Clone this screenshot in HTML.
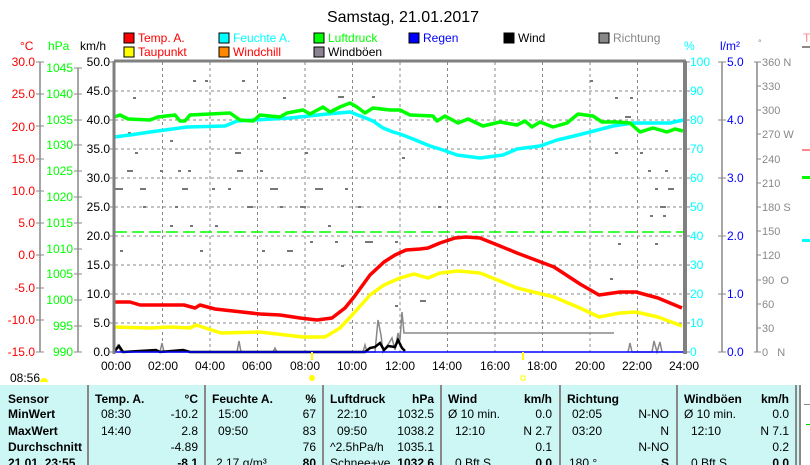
<!DOCTYPE html>
<html><head><meta charset="utf-8"><style>
body{margin:0;background:#fff;width:810px;height:465px;overflow:hidden;font-family:"Liberation Sans",sans-serif}
svg{display:block}
text{font-family:"Liberation Sans",sans-serif}
</style></head><body>
<svg width="810" height="465" xmlns="http://www.w3.org/2000/svg">
<text x="403" y="22" font-size="16" text-anchor="middle">Samstag, 21.01.2017</text>
<!-- legend -->
<g font-size="12">
<rect x="124" y="33" width="10" height="10" fill="#f00" stroke="#000"/><text x="138" y="42" fill="#f00">Temp. A.</text>
<rect x="124" y="47" width="10" height="10" fill="#ff0" stroke="#000"/><text x="138" y="56" fill="#f00">Taupunkt</text>
<rect x="219" y="33" width="10" height="10" fill="#0ff" stroke="#000"/><text x="233" y="42" fill="#0ff">Feuchte A.</text>
<rect x="219" y="47" width="10" height="10" fill="#f80" stroke="#000"/><text x="233" y="56" fill="#f00">Windchill</text>
<rect x="314" y="33" width="10" height="10" fill="#0f0" stroke="#000"/><text x="328" y="42" fill="#0f0">Luftdruck</text>
<rect x="314" y="47" width="10" height="10" fill="#8a8290" stroke="#000"/><text x="328" y="56">Windböen</text>
<rect x="409" y="33" width="10" height="10" fill="#00f" stroke="#000"/><text x="423" y="42" fill="#00f">Regen</text>
<rect x="504" y="33" width="10" height="10" fill="#000" stroke="#000"/><text x="518" y="42">Wind</text>
<rect x="599" y="33" width="10" height="10" fill="#888" stroke="#000"/><text x="613" y="42" fill="#888">Richtung</text>
</g>
<!-- axis titles -->
<g font-size="12">
<text x="20" y="50" fill="#f00">°C</text><text x="48" y="50" fill="#0f0">hPa</text><text x="80" y="50">km/h</text>
<text x="684" y="50" fill="#0ff">%</text><text x="720" y="50" fill="#00f">l/m²</text><text x="758" y="46" fill="#888" font-size="9">°</text>
<text x="803" y="42" fill="#f88">T</text>
</g>
<!-- left axes -->
<g stroke="#888" stroke-width="1.5" fill="none">
<line x1="40" y1="62" x2="40" y2="352"/><line x1="78" y1="68" x2="78" y2="352"/>
</g>
<g font-size="12" fill="#f00" text-anchor="end">
<text x="35" y="66">30.0</text><text x="35" y="98">25.0</text><text x="35" y="131">20.0</text><text x="35" y="163">15.0</text><text x="35" y="195">10.0</text><text x="35" y="227">5.0</text><text x="35" y="259">0.0</text><text x="35" y="292">-5.0</text><text x="35" y="324">-10.0</text><text x="35" y="356">-15.0</text>
</g>
<g stroke="#888"><line x1="36" y1="62" x2="44" y2="62"/><line x1="36" y1="94" x2="44" y2="94"/><line x1="36" y1="126" x2="44" y2="126"/><line x1="36" y1="159" x2="44" y2="159"/><line x1="36" y1="191" x2="44" y2="191"/><line x1="36" y1="223" x2="44" y2="223"/><line x1="36" y1="255" x2="44" y2="255"/><line x1="36" y1="288" x2="44" y2="288"/><line x1="36" y1="320" x2="44" y2="320"/><line x1="36" y1="352" x2="44" y2="352"/></g>
<g font-size="12" fill="#0f0" text-anchor="end">
<text x="73" y="72">1045</text><text x="73" y="98">1040</text><text x="73" y="124">1035</text><text x="73" y="149">1030</text><text x="73" y="175">1025</text><text x="73" y="201">1020</text><text x="73" y="227">1015</text><text x="73" y="253">1010</text><text x="73" y="278">1005</text><text x="73" y="304">1000</text><text x="73" y="330">995</text><text x="73" y="356">990</text>
</g>
<g stroke="#888"><line x1="74" y1="68" x2="82" y2="68"/><line x1="74" y1="94" x2="82" y2="94"/><line x1="74" y1="120" x2="82" y2="120"/><line x1="74" y1="145" x2="82" y2="145"/><line x1="74" y1="171" x2="82" y2="171"/><line x1="74" y1="197" x2="82" y2="197"/><line x1="74" y1="223" x2="82" y2="223"/><line x1="74" y1="249" x2="82" y2="249"/><line x1="74" y1="274" x2="82" y2="274"/><line x1="74" y1="300" x2="82" y2="300"/><line x1="74" y1="326" x2="82" y2="326"/><line x1="74" y1="352" x2="82" y2="352"/></g>
<g font-size="12" text-anchor="end">
<text x="110" y="66">50.0</text><text x="110" y="95">45.0</text><text x="110" y="124">40.0</text><text x="110" y="153">35.0</text><text x="110" y="182">30.0</text><text x="110" y="211">25.0</text><text x="110" y="240">20.0</text><text x="110" y="269">15.0</text><text x="110" y="298">10.0</text><text x="110" y="327">5.0</text><text x="110" y="356">0.0</text>
</g>
<!-- grid -->
<g stroke="#888" stroke-dasharray="3,3" stroke-width="1">
<line x1="115" y1="91" x2="683" y2="91"/><line x1="115" y1="120" x2="683" y2="120"/><line x1="115" y1="149" x2="683" y2="149"/><line x1="115" y1="178" x2="683" y2="178"/><line x1="115" y1="207" x2="683" y2="207"/><line x1="115" y1="236" x2="683" y2="236"/><line x1="115" y1="265" x2="683" y2="265"/><line x1="115" y1="294" x2="683" y2="294"/><line x1="115" y1="323" x2="683" y2="323"/>
<line x1="162.5" y1="62" x2="162.5" y2="352"/><line x1="210" y1="62" x2="210" y2="352"/><line x1="257.5" y1="62" x2="257.5" y2="352"/><line x1="305" y1="62" x2="305" y2="352"/><line x1="352.5" y1="62" x2="352.5" y2="352"/><line x1="400" y1="62" x2="400" y2="352"/><line x1="447.5" y1="62" x2="447.5" y2="352"/><line x1="495" y1="62" x2="495" y2="352"/><line x1="542.5" y1="62" x2="542.5" y2="352"/><line x1="590" y1="62" x2="590" y2="352"/><line x1="637.5" y1="62" x2="637.5" y2="352"/>
</g>
<!-- scattered direction dots -->
<g fill="#777">
<rect x="193" y="80" width="3" height="2"/><rect x="205" y="80" width="3" height="2"/><rect x="242" y="80" width="3" height="2"/><rect x="133" y="97" width="3" height="2"/><rect x="283" y="97" width="3" height="2"/><rect x="338" y="96" width="6" height="2"/><rect x="372" y="96" width="3" height="2"/><rect x="128" y="132" width="3" height="2"/><rect x="170" y="140" width="3" height="2"/><rect x="135" y="152" width="3" height="2"/><rect x="235" y="152" width="6" height="2"/><rect x="305" y="152" width="3" height="2"/><rect x="127" y="170" width="6" height="2"/><rect x="160" y="170" width="3" height="2"/><rect x="178" y="170" width="3" height="2"/><rect x="188" y="170" width="3" height="2"/><rect x="237" y="170" width="6" height="2"/><rect x="260" y="170" width="3" height="2"/><rect x="115" y="188" width="8" height="2"/><rect x="140" y="188" width="6" height="2"/><rect x="182" y="188" width="6" height="2"/><rect x="212" y="188" width="3" height="2"/><rect x="228" y="188" width="3" height="2"/><rect x="270" y="188" width="8" height="2"/><rect x="315" y="188" width="8" height="2"/><rect x="345" y="188" width="3" height="2"/><rect x="143" y="206" width="3" height="2"/><rect x="175" y="206" width="3" height="2"/><rect x="247" y="206" width="6" height="2"/><rect x="280" y="206" width="3" height="2"/><rect x="300" y="206" width="6" height="2"/><rect x="358" y="206" width="3" height="2"/><rect x="170" y="225" width="3" height="2"/><rect x="190" y="225" width="3" height="2"/><rect x="215" y="225" width="3" height="2"/><rect x="328" y="225" width="3" height="2"/><rect x="590" y="80" width="3" height="2"/><rect x="615" y="97" width="3" height="2"/><rect x="630" y="97" width="3" height="2"/><rect x="625" y="116" width="6" height="2"/><rect x="615" y="152" width="3" height="2"/><rect x="640" y="152" width="3" height="2"/><rect x="648" y="170" width="3" height="2"/><rect x="665" y="170" width="3" height="2"/><rect x="655" y="188" width="3" height="2"/><rect x="668" y="188" width="6" height="2"/><rect x="660" y="206" width="6" height="2"/><rect x="618" y="243" width="3" height="2"/><rect x="655" y="243" width="3" height="2"/><rect x="310" y="241" width="3" height="2"/><rect x="335" y="241" width="3" height="2"/><rect x="365" y="241" width="8" height="2"/><rect x="395" y="241" width="3" height="2"/><rect x="120" y="250" width="3" height="2"/><rect x="200" y="250" width="3" height="2"/><rect x="262" y="250" width="3" height="2"/><rect x="287" y="250" width="6" height="2"/><rect x="341" y="265" width="3" height="2"/><rect x="420" y="300" width="6" height="2"/><rect x="650" y="215" width="3" height="2"/><rect x="663" y="215" width="3" height="2"/><rect x="395" y="305" width="3" height="2"/><rect x="610" y="278" width="3" height="2"/><rect x="438" y="206" width="3" height="2"/><rect x="402" y="157" width="3" height="2"/></g>
<!-- pressure mean dashed -->
<line x1="115" y1="232" x2="683" y2="232" stroke="#0f0" stroke-width="1.5" stroke-dasharray="12,5"/>
<!-- series -->
<g fill="none" stroke-width="3.5" stroke-linejoin="round">
<polyline stroke="#0ff" points="114,137 130,135 150,132 165,130 187,127 225,126 237,121 290,118 327,114 350,112 363,117 373,121 383,128 393,132 400,134 413,139 430,146 443,150 457,155 480,158 503,155 517,149 540,146 557,140 570,137 590,132 613,126 633,123 670,123 683,120"/>
<polyline stroke="#0f0" points="114,117 120,115 128,119 150,120 158,117 175,115 180,121 185,121 190,115 210,114 230,113 240,120 253,121 260,115 280,117 287,113 303,110 310,114 323,107 330,112 340,107 350,103 357,107 365,113 373,108 390,110 400,110 410,115 433,116 437,121 445,116 458,123 468,119 483,126 500,122 517,125 525,121 532,127 540,122 553,127 567,123 578,114 593,116 602,122 617,122 630,123 640,132 653,128 667,132 675,129 683,131"/>
<polyline stroke="#ff0" points="114,327 150,328 170,327 190,328 196,325 221,333 260,332 303,337 325,337 340,328 354,313 370,295 384,285 400,278 414,274 428,278 440,273 458,271 480,273 500,281 517,288 554,297 580,308 599,317 620,313 636,312 658,317 682,326"/>
<polyline stroke="#f00" points="114,302 130,302 140,305 184,305 195,308 200,305 215,309 260,314 280,315 300,318 317,320 332,318 345,308 354,297 370,275 384,262 395,255 406,250 420,249 428,248 440,243 455,238 466,237 480,238 500,246 517,253 554,267 580,284 599,295 620,292 636,292 658,298 682,308"/>
</g>
<!-- gusts -->
<polyline fill="none" stroke="#888" stroke-width="1.5" points="114,352 118,345 121,352 160,352 162,343 164,352 237,352 239,341 241,352 273,352 275,348 277,352 363,352 365,345 367,352 375,352 378,320 381,335 383,352 389,343 392,338 395,350 398,333 400,340 402,312 404,333 614,333"/>
<polyline fill="none" stroke="#888" stroke-width="1.5" points="628,352 630,343 632,352 652,352 654,341 657,352 660,342 662,352"/>
<polyline fill="none" stroke="#000" stroke-width="2.5" points="114,352 119,346 123,352 156,350 160,352 183,350 190,352 365,352 370,348 375,347 380,343 384,350 388,346 395,347 398,340 402,348 405,351"/>
<line x1="115" y1="352" x2="683" y2="352" stroke="#00f" stroke-width="1.5"/>
<!-- frame -->
<g stroke="#808080" fill="none">
<line x1="114" y1="61" x2="686" y2="61" stroke-width="3"/>
<line x1="114" y1="61" x2="114" y2="354" stroke-width="3"/>
<line x1="685" y1="61" x2="685" y2="354" stroke-width="4"/>
</g>
<g stroke="#888"><line x1="110" y1="62" x2="114" y2="62"/><line x1="110" y1="91" x2="114" y2="91"/><line x1="110" y1="120" x2="114" y2="120"/><line x1="110" y1="149" x2="114" y2="149"/><line x1="110" y1="178" x2="114" y2="178"/><line x1="110" y1="207" x2="114" y2="207"/><line x1="110" y1="236" x2="114" y2="236"/><line x1="110" y1="265" x2="114" y2="265"/><line x1="110" y1="294" x2="114" y2="294"/><line x1="110" y1="323" x2="114" y2="323"/><line x1="110" y1="352" x2="114" y2="352"/></g>
<!-- right axes -->
<g font-size="12" fill="#0ff">
<text x="690" y="66">100</text><text x="690" y="95">90</text><text x="690" y="124">80</text><text x="690" y="153">70</text><text x="690" y="182">60</text><text x="690" y="211">50</text><text x="690" y="240">40</text><text x="690" y="269">30</text><text x="690" y="298">20</text><text x="690" y="327">10</text><text x="690" y="356">0</text>
</g>
<g stroke="#888"><line x1="686" y1="62" x2="690" y2="62"/><line x1="686" y1="91" x2="690" y2="91"/><line x1="686" y1="120" x2="690" y2="120"/><line x1="686" y1="149" x2="690" y2="149"/><line x1="686" y1="178" x2="690" y2="178"/><line x1="686" y1="207" x2="690" y2="207"/><line x1="686" y1="236" x2="690" y2="236"/><line x1="686" y1="265" x2="690" y2="265"/><line x1="686" y1="294" x2="690" y2="294"/><line x1="686" y1="323" x2="690" y2="323"/><line x1="686" y1="352" x2="690" y2="352"/>
<line x1="722" y1="62" x2="722" y2="352" stroke-width="1.5"/>
<line x1="718" y1="62" x2="726" y2="62"/><line x1="718" y1="120" x2="726" y2="120"/><line x1="718" y1="178" x2="726" y2="178"/><line x1="718" y1="236" x2="726" y2="236"/><line x1="718" y1="294" x2="726" y2="294"/><line x1="718" y1="352" x2="726" y2="352"/>
<line x1="757" y1="62" x2="757" y2="352" stroke-width="1.5"/>
<line x1="754" y1="62" x2="761" y2="62"/><line x1="757" y1="86" x2="761" y2="86"/><line x1="757" y1="110" x2="761" y2="110"/><line x1="757" y1="134" x2="761" y2="134"/><line x1="757" y1="159" x2="761" y2="159"/><line x1="757" y1="183" x2="761" y2="183"/><line x1="757" y1="207" x2="761" y2="207"/><line x1="757" y1="231" x2="761" y2="231"/><line x1="757" y1="255" x2="761" y2="255"/><line x1="757" y1="280" x2="761" y2="280"/><line x1="757" y1="304" x2="761" y2="304"/><line x1="757" y1="328" x2="761" y2="328"/><line x1="754" y1="352" x2="761" y2="352"/>
</g>
<g font-size="12" fill="#00f"><text x="727" y="66">5.0</text><text x="727" y="124">4.0</text><text x="727" y="182">3.0</text><text x="727" y="240">2.0</text><text x="727" y="298">1.0</text><text x="727" y="356">0.0</text></g>
<g font-size="11" fill="#888"><text x="762" y="66">360 N</text><text x="762" y="90">330</text><text x="762" y="114">300</text><text x="762" y="138">270 W</text><text x="762" y="163">240</text><text x="762" y="187">210</text><text x="762" y="211">180 S</text><text x="762" y="235">150</text><text x="762" y="259">120</text><text x="762" y="284">90&#160;&#160;O</text><text x="762" y="308">60</text><text x="762" y="332">30</text><text x="762" y="356">0&#160;&#160;&#160;N</text></g>
<g><rect x="802" y="46" width="8" height="2" fill="#888"/><rect x="802" y="149" width="8" height="2" fill="#f88"/><rect x="802" y="176" width="8" height="3" fill="#0f0"/><rect x="802" y="239" width="8" height="3" fill="#0ff"/></g>
<!-- x labels -->
<g font-size="12" text-anchor="middle"><text x="116" y="370">00:00</text><text x="163" y="370">02:00</text><text x="210" y="370">04:00</text><text x="257" y="370">06:00</text><text x="305" y="370">08:00</text><text x="352" y="370">10:00</text><text x="400" y="370">12:00</text><text x="447" y="370">14:00</text><text x="495" y="370">16:00</text><text x="542" y="370">18:00</text><text x="590" y="370">20:00</text><text x="637" y="370">22:00</text><text x="684" y="370">24:00</text></g>
<line x1="312" y1="352" x2="312" y2="360" stroke="#ff0" stroke-width="2"/><circle cx="312" cy="378" r="3" fill="#ff0"/>
<line x1="523" y1="352" x2="523" y2="360" stroke="#ff0" stroke-width="2"/><rect x="521" y="376" width="4" height="4" fill="none" stroke="#ff0"/>
<text x="10" y="382" font-size="12">08:56</text><path d="M40 382 a4 4 0 0 1 8 0 z" fill="#ff0"/>
<!-- table -->
<rect x="0" y="385" width="810" height="80" fill="#ccf7f5"/>
<g stroke="#888" stroke-width="2"><line x1="88" y1="385" x2="88" y2="465"/><line x1="205" y1="385" x2="205" y2="465"/><line x1="323" y1="385" x2="323" y2="465"/><line x1="441" y1="385" x2="441" y2="465"/><line x1="560" y1="385" x2="560" y2="465"/><line x1="677" y1="385" x2="677" y2="465"/><line x1="796" y1="385" x2="796" y2="465"/><line x1="800" y1="385" x2="800" y2="465"/></g>
<rect x="801" y="385" width="9" height="80" fill="#fff"/>
<g font-size="12" font-weight="bold">
<text x="8" y="403">Sensor</text><text x="8" y="418">MinWert</text><text x="8" y="435">MaxWert</text><text x="8" y="451">Durchschnitt</text><text x="8" y="467">21.01. 23:55</text>
<text x="95" y="403">Temp. A.</text><text x="198" y="403" text-anchor="end">°C</text>
<text x="212" y="403">Feuchte A.</text><text x="316" y="403" text-anchor="end">%</text>
<text x="330" y="403">Luftdruck</text><text x="434" y="403" text-anchor="end">hPa</text>
<text x="448" y="403">Wind</text><text x="552" y="403" text-anchor="end">km/h</text>
<text x="567" y="403">Richtung</text>
<text x="684" y="403">Windböen</text><text x="789" y="403" text-anchor="end">km/h</text>
<text x="198" y="467" text-anchor="end">-8.1</text><text x="316" y="467" text-anchor="end">80</text><text x="434" y="467" text-anchor="end">1032.6</text><text x="552" y="467" text-anchor="end">0.0</text><text x="669" y="467" text-anchor="end">S</text><text x="789" y="467" text-anchor="end">0.0</text>
</g>
<g font-size="12">
<text x="101" y="418">08:30</text><text x="198" y="418" text-anchor="end">-10.2</text><text x="101" y="435">14:40</text><text x="198" y="435" text-anchor="end">2.8</text><text x="198" y="451" text-anchor="end">-4.89</text>
<text x="218" y="418">15:00</text><text x="316" y="418" text-anchor="end">67</text><text x="218" y="435">09:50</text><text x="316" y="435" text-anchor="end">83</text><text x="316" y="451" text-anchor="end">76</text><text x="216" y="467">2.17 g/m³</text>
<text x="337" y="418">22:10</text><text x="434" y="418" text-anchor="end">1032.5</text><text x="337" y="435">09:50</text><text x="434" y="435" text-anchor="end">1038.2</text><text x="330" y="451">^2.5hPa/h</text><text x="434" y="451" text-anchor="end">1035.1</text><text x="330" y="467">Schnee+ve</text>
<text x="448" y="418">Ø 10 min.</text><text x="552" y="418" text-anchor="end">0.0</text><text x="455" y="435">12:10</text><text x="552" y="435" text-anchor="end">N 2.7</text><text x="552" y="451" text-anchor="end">0.1</text><text x="455" y="467">0 Bft S</text>
<text x="572" y="418">02:05</text><text x="669" y="418" text-anchor="end">N-NO</text><text x="572" y="435">03:20</text><text x="669" y="435" text-anchor="end">N</text><text x="669" y="451" text-anchor="end">N-NO</text><text x="569" y="467">180 °</text>
<text x="684" y="418">Ø 10 min.</text><text x="789" y="418" text-anchor="end">0.0</text><text x="691" y="435">12:10</text><text x="789" y="435" text-anchor="end">N 7.1</text><text x="789" y="451" text-anchor="end">0.2</text><text x="691" y="467">0 Bft S</text>
</g>
<rect x="804" y="404" width="6" height="1" fill="#888"/><rect x="806" y="424" width="4" height="1" fill="#0c0"/>
</svg>
</body></html>
